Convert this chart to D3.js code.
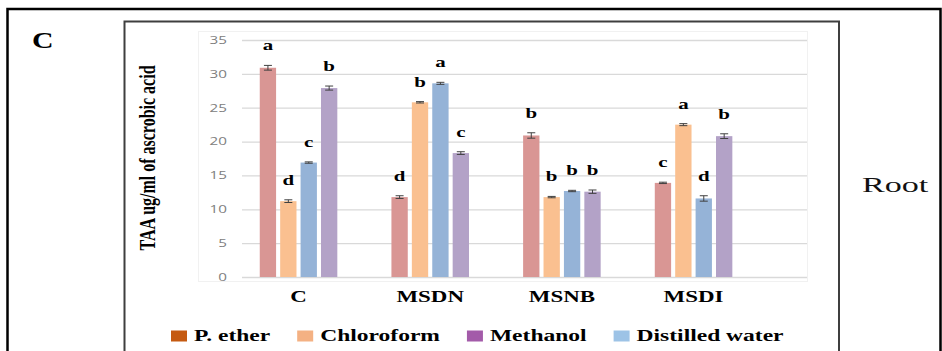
<!DOCTYPE html>
<html>
<head>
<meta charset="utf-8">
<script src="https://cdn.jsdelivr.net/npm/d3@7"></script>
<style>
  html, body { margin: 0; padding: 0; background: #fff; }
  svg { display: block; }
</style>
</head>
<body>
<svg id="chart" width="942" height="351"></svg>
<script>
// Sample groups and extraction solvents
const categories = ["C", "MSDN", "MSNB", "MSDI"];
const barSeries = ["P. ether", "Chloroform", "Distilled water", "Methanol"];
const legendSeries = ["P. ether", "Chloroform", "Methanol", "Distilled water"];

// TAA (ug/ml of ascorbic acid) per solvent, one entry per group
const pEther        = [30.9, 11.8, 20.9, 13.9];
const chloroform    = [11.2, 25.8, 11.8, 22.5];
const distilled     = [16.9, 28.6, 12.7, 11.6];
const methanol      = [27.9, 18.3, 12.6, 20.8];

// standard errors
const pEtherErr     = [0.35, 0.2, 0.4, 0.1];
const chloroformErr = [0.2, 0.1, 0.1, 0.15];
const distilledErr  = [0.1, 0.15, 0.1, 0.4];
const methanolErr   = [0.3, 0.2, 0.25, 0.35];

// significance letters
const pEtherSig     = ["a", "d", "b", "c"];
const chloroformSig = ["d", "b", "b", "a"];
const distilledSig  = ["c", "a", "b", "d"];
const methanolSig   = ["b", "c", "b", "b"];

const yTicks = [0, 5, 10, 15, 20, 25, 30, 35];

const seriesTable = {
  "P. ether":        { values: pEther,     err: pEtherErr,     sig: pEtherSig },
  "Chloroform":      { values: chloroform, err: chloroformErr, sig: chloroformSig },
  "Distilled water": { values: distilled,  err: distilledErr,  sig: distilledSig },
  "Methanol":        { values: methanol,   err: methanolErr,   sig: methanolSig }
};

const barColor = d3.scaleOrdinal()
  .domain(["P. ether", "Chloroform", "Distilled water", "Methanol"])
  .range(["#d99694", "#fac090", "#95b3d7", "#b3a2c7"]);
const legendColor = d3.scaleOrdinal()
  .domain(["P. ether", "Chloroform", "Methanol", "Distilled water"])
  .range(["#c55a11", "#f4b183", "#a35ba9", "#9dc3e6"]);

const serif = "'Liberation Serif', 'Times New Roman', Times, serif";
const sans = "'Open Sans', 'Liberation Sans', Arial, sans-serif";

const svg = d3.select("#chart");

// outer frame
svg.append("path")
  .attr("d", "M7.5,360 V9 H940.5 V360")
  .attr("fill", "none").attr("stroke", "#000").attr("stroke-width", 2.5);

// inner chart frame
svg.append("path")
  .attr("d", "M124.5,360 V21.5 H839 V360")
  .attr("fill", "none").attr("stroke", "#3f3f3f").attr("stroke-width", 2);

// panel letter
svg.append("text")
  .attr("transform", `translate(32,48) scale(1.3,1)`)
  .attr("font-family", serif).attr("font-weight", "bold").attr("font-size", 23)
  .attr("fill", "#000").text("C");

// side label
svg.append("text")
  .attr("transform", `translate(862,192) scale(1.55,1)`)
  .attr("font-family", serif).attr("font-size", 22)
  .attr("fill", "#111").text("Root");

// faint plot area box
svg.append("rect")
  .attr("x", 198.5).attr("y", 31.5).attr("width", 609).attr("height", 250)
  .attr("fill", "none").attr("stroke", "#f1f1f1").attr("stroke-width", 1);

const gridLeft = 242, gridRight = 807;
const y = d3.scaleLinear().domain([0, 35]).range([277, 40]);

const x0 = d3.scaleBand().domain(categories)
  .range([232.7, 759.4]).paddingInner(0.38).paddingOuter(0.19);
const x1 = d3.scaleBand().domain(barSeries)
  .range([0, x0.bandwidth()]).paddingInner(0.2).paddingOuter(0.1);

// gridlines
const grid = svg.append("g")
  .attr("transform", `translate(${gridLeft},0)`)
  .call(d3.axisLeft(y).tickValues(yTicks).tickSize(-(gridRight - gridLeft)).tickFormat(""));
grid.select(".domain").remove();
grid.selectAll(".tick line").attr("stroke", "#d9d9d9").attr("stroke-width", 1.3);

// y tick labels
svg.append("g").selectAll("text").data(yTicks).join("text")
  .attr("transform", d => `translate(227,${y(d)}) scale(1.45,1)`)
  .attr("text-anchor", "end").attr("dy", "0.36em")
  .attr("font-family", sans).attr("font-size", 10.5)
  .attr("fill", "#808080").text(d => d);

// y axis title
svg.append("text")
  .attr("transform", `translate(155,158) scale(1.4,1) rotate(-90)`)
  .attr("text-anchor", "middle")
  .attr("font-family", serif).attr("font-weight", "bold").attr("font-size", 16)
  .attr("fill", "#000").text("TAA ug/ml of ascrobic acid");

// bars, error bars and letters
const rows = [];
categories.forEach((c, i) => {
  barSeries.forEach(s => {
    const t = seriesTable[s];
    rows.push({ cat: c, series: s, value: t.values[i], err: t.err[i], sig: t.sig[i] });
  });
});

const groups = svg.append("g").selectAll("g").data(categories).join("g")
  .attr("transform", c => `translate(${x0(c)},0)`);

groups.selectAll("rect").data(c => rows.filter(r => r.cat === c)).join("rect")
  .attr("x", d => x1(d.series))
  .attr("y", d => y(d.value))
  .attr("width", x1.bandwidth())
  .attr("height", d => y(0) - y(d.value))
  .attr("fill", d => barColor(d.series));

const eb = groups.selectAll("g.err").data(c => rows.filter(r => r.cat === c)).join("g")
  .attr("class", "err")
  .attr("transform", d => `translate(${x1(d.series) + x1.bandwidth() / 2},0)`)
  .attr("stroke", "#404040").attr("stroke-width", 1);
eb.append("line").attr("x1", 0).attr("x2", 0)
  .attr("y1", d => y(d.value + d.err)).attr("y2", d => y(d.value - d.err));
eb.append("line").attr("x1", -4).attr("x2", 4)
  .attr("y1", d => y(d.value + d.err)).attr("y2", d => y(d.value + d.err));
eb.append("line").attr("x1", -4).attr("x2", 4)
  .attr("y1", d => y(d.value - d.err)).attr("y2", d => y(d.value - d.err));

groups.selectAll("text.sig").data(c => rows.filter(r => r.cat === c)).join("text")
  .attr("class", "sig")
  .attr("transform", d => `translate(${x1(d.series) + x1.bandwidth() / 2},${y(d.value + d.err) - 15}) scale(1.35,1)`)
  .attr("text-anchor", "middle")
  .attr("font-family", serif).attr("font-weight", "bold").attr("font-size", 15.5)
  .attr("fill", "#000").text(d => d.sig);

// category labels
svg.append("g").selectAll("text").data(categories).join("text")
  .attr("transform", c => `translate(${x0(c) + x0.bandwidth() / 2},302) scale(1.35,1)`)
  .attr("text-anchor", "middle")
  .attr("font-family", serif).attr("font-weight", "bold").attr("font-size", 17)
  .attr("fill", "#000").text(c => c);

// legend
const legend = svg.append("g");
let lx = 171;
legendSeries.forEach(s => {
  legend.append("rect")
    .attr("x", lx).attr("y", 330.5).attr("width", 16).attr("height", 11)
    .attr("fill", legendColor(s));
  const tx = lx + 23;
  const t = legend.append("text")
    .attr("transform", `translate(${tx},341) scale(1.47,1)`)
    .attr("font-family", serif).attr("font-weight", "bold").attr("font-size", 16)
    .attr("fill", "#000").text(s);
  const w = t.node().getComputedTextLength() * 1.47;
  lx = tx + w + 27;
});
</script>
</body>
</html>
